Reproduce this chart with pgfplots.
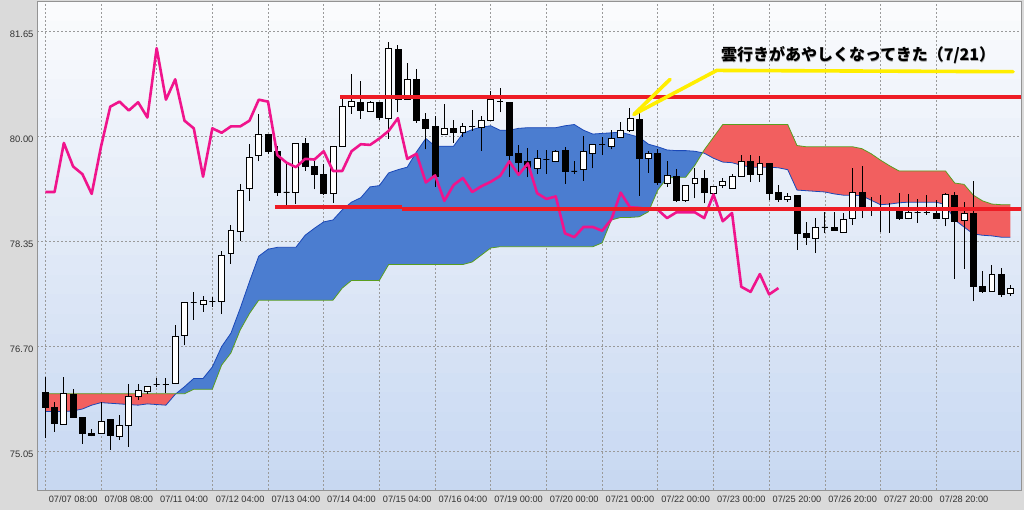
\documentclass[border=0pt]{standalone}
\usepackage{fontspec}
\setmainfont{Liberation Sans}
\newfontfamily\cjk{Noto Sans CJK JP}
\usepackage{pgfplots}
\pgfplotsset{compat=1.18}

\definecolor{framecol}{HTML}{DADADA}
\definecolor{bgtop}{HTML}{FAFBFD}
\definecolor{bgbot}{HTML}{C6D7F1}
\definecolor{gridgray}{HTML}{9A9A9A}
\definecolor{cloudblue}{HTML}{4B7DD0}
\definecolor{cloudred}{HTML}{F25F5F}
\definecolor{spanA}{HTML}{1A48B8}
\definecolor{spanB}{HTML}{5A9E1E}
\definecolor{chikou}{HTML}{F0148C}
\definecolor{hline}{HTML}{EE1C25}
\definecolor{yel}{HTML}{FFEE00}
\definecolor{ticktext}{HTML}{333333}

\begin{document}
\begin{tikzpicture}
\fill[framecol] (0,0) rectangle (1024pt,510pt);
% plot-area backdrop: banded light gradient, white at top to pale blue at bottom
\foreach \s in {0,...,24} {
  \pgfmathsetmacro\pct{4*\s}
  \fill[bgbot!\pct!bgtop] (37pt,{509pt-\s*19.56pt}) rectangle (1021pt,{509pt-(\s+1)*19.56pt-0.3pt});
}
\begin{axis}[
    at={(37pt,20pt)}, anchor=south west,
    scale only axis, width=984pt, height=489pt,
    xmin=-0.894, xmax=105.14,
    ymin=74.437, ymax=82.121,
    axis line style={draw=gray!85, line width=0.8pt},
    major tick length=0pt,
    grid=major,
    major grid style={gridgray, line width=0.6pt, dash pattern=on 2pt off 2pt},
    xtick={0,6,...,96},
    xticklabels={07/07 08:00,07/08 08:00,07/11 04:00,07/12 04:00,07/13 04:00,07/14 04:00,07/15 04:00,07/16 04:00,07/19 00:00,07/20 00:00,07/21 00:00,07/22 00:00,07/23 00:00,07/25 20:00,07/26 20:00,07/27 20:00,07/28 20:00},
    ytick={75.05,76.70,78.35,80.00,81.65},
    yticklabels={75.05,76.70,78.35,80.00,81.65},
    xticklabel style={anchor=west, yshift=-9.5pt, font=\fontsize{9.2}{10}\selectfont, text=ticktext},
    yticklabel style={yshift=-3pt, font=\fontsize{9.4}{10}\selectfont, text=ticktext},
]

% ichimoku cloud: span A forward, span B back, split where they cross
\addplot[fill=cloudred, draw=none] coordinates {
(0,75.67)(1,75.67)(2,75.67)(3,75.68)(4,75.71)(5,75.77)(6,75.81)(7,75.80)(8,75.79)(9,75.78)
(10,75.77)(11,75.79)(12,75.78)(13,75.77)(14,75.94)(14.08,75.95)(0,75.95)} -- cycle;
\addplot[fill=cloudblue, draw=none] coordinates {
(14.08,75.95)(15,76.06)(16,76.19)(17,76.19)(18,76.37)(19,76.69)
(20,76.90)(21,77.29)(22,77.71)(23,78.11)(24,78.22)(25,78.25)(26,78.25)(27,78.25)(28,78.44)(29,78.55)
(30,78.65)(31,78.68)(32,78.84)(33,78.96)(34,79.03)(35,79.20)(36,79.22)(37,79.42)(38,79.47)(39,79.51)
(40,79.75)(41,79.96)(42,79.84)(43,79.84)(44,79.84)(45,80.04)(46,80.10)(47,80.14)(48,80.16)(49,80.09)
(50,80.09)(51,80.12)(52,80.13)(53,80.13)(54,80.13)(55,80.13)(56,80.16)(57,80.18)(58,80.09)(59,80.03)
(60,80.04)(61,80.05)(62,80.06)(63,80.02)(64,79.98)(65,79.87)(66,79.83)(67,79.78)(68,79.77)(69,79.77)
(70,79.76)(70.81,79.735)
(70,79.54)(69,79.35)(68,79.35)(67,79.34)(66,79.15)(65,78.81)(64,78.73)(63,78.72)(62,78.72)(61,78.68)
(60,78.32)(59,78.26)(49,78.26)(48,78.24)(47,78.13)(46,78.02)(45,77.98)(37,77.98)(36,77.73)(33,77.73)
(32,77.61)(31,77.42)(23,77.42)(22,77.21)(21,76.95)(20,76.59)(19,76.40)(18,76.02)(16,76.02)(15,75.95)} -- cycle;
\addplot[fill=cloudred, draw=none] coordinates {
(70.81,79.735)(71,79.73)(72,79.65)(73,79.59)(74,79.58)(75,79.54)(76,79.51)(77,79.51)(78,79.51)(79,79.50)
(80,79.47)(81,79.15)(82,79.14)(83,79.13)(84,79.12)(85,79.09)(86,79.07)(87,79.07)(88,79.06)(89,78.99)
(90,78.92)(91,78.93)(92,78.95)(93,78.96)(94,78.96)(95,78.96)(96,78.96)(97,78.92)(98,78.68)(99,78.57)
(100,78.46)(101,78.44)(102,78.43)(103,78.41)(104,78.41)
(104,78.92)(103,78.92)(102,78.93)(101,78.98)(100,79.07)(99,79.24)(98,79.26)(97,79.45)(92,79.45)(91,79.53)
(90,79.62)(89,79.72)(88,79.80)(87,79.83)(82,79.83)(81,79.85)(80,80.18)(73,80.18)(72,79.98)(71,79.78)} -- cycle;

% senkou span A (blue) and B (green)
\addplot[spanA, line width=0.8pt] coordinates {
(0,75.67)(1,75.67)(2,75.67)(3,75.68)(4,75.71)(5,75.77)(6,75.81)(7,75.80)(8,75.79)(9,75.78)
(10,75.77)(11,75.79)(12,75.78)(13,75.77)(14,75.94)(15,76.06)(16,76.19)(17,76.19)(18,76.37)(19,76.69)
(20,76.90)(21,77.29)(22,77.71)(23,78.11)(24,78.22)(25,78.25)(26,78.25)(27,78.25)(28,78.44)(29,78.55)
(30,78.65)(31,78.68)(32,78.84)(33,78.96)(34,79.03)(35,79.20)(36,79.22)(37,79.42)(38,79.47)(39,79.51)
(40,79.75)(41,79.96)(42,79.84)(43,79.84)(44,79.84)(45,80.04)(46,80.10)(47,80.14)(48,80.16)(49,80.09)
(50,80.09)(51,80.12)(52,80.13)(53,80.13)(54,80.13)(55,80.13)(56,80.16)(57,80.18)(58,80.09)(59,80.03)
(60,80.04)(61,80.05)(62,80.06)(63,80.02)(64,79.98)(65,79.87)(66,79.83)(67,79.78)(68,79.77)(69,79.77)
(70,79.76)(71,79.73)(72,79.65)(73,79.59)(74,79.58)(75,79.54)(76,79.51)(77,79.51)(78,79.51)(79,79.50)
(80,79.47)(81,79.15)(82,79.14)(83,79.13)(84,79.12)(85,79.09)(86,79.07)(87,79.07)(88,79.06)(89,78.99)
(90,78.92)(91,78.93)(92,78.95)(93,78.96)(94,78.96)(95,78.96)(96,78.96)(97,78.92)(98,78.68)(99,78.57)
(100,78.46)(101,78.44)(102,78.43)(103,78.41)(104,78.41)};
\addplot[spanB, line width=0.8pt] coordinates {
(0,75.95)(1,75.95)(2,75.95)(3,75.95)(4,75.95)(5,75.95)(6,75.95)(7,75.95)(8,75.95)(9,75.95)
(10,75.95)(11,75.95)(12,75.95)(13,75.95)(14,75.95)(15,75.95)(16,76.02)(17,76.02)(18,76.02)(19,76.40)
(20,76.59)(21,76.95)(22,77.21)(23,77.42)(24,77.42)(25,77.42)(26,77.42)(27,77.42)(28,77.42)(29,77.42)
(30,77.42)(31,77.42)(32,77.61)(33,77.73)(34,77.73)(35,77.73)(36,77.73)(37,77.98)(38,77.98)(39,77.98)
(40,77.98)(41,77.98)(42,77.98)(43,77.98)(44,77.98)(45,77.98)(46,78.02)(47,78.13)(48,78.24)(49,78.26)
(50,78.26)(51,78.26)(52,78.26)(53,78.26)(54,78.26)(55,78.26)(56,78.26)(57,78.26)(58,78.26)(59,78.26)
(60,78.32)(61,78.68)(62,78.72)(63,78.72)(64,78.73)(65,78.81)(66,79.15)(67,79.34)(68,79.35)(69,79.35)
(70,79.54)(71,79.78)(72,79.98)(73,80.18)(74,80.18)(75,80.18)(76,80.18)(77,80.18)(78,80.18)(79,80.18)
(80,80.18)(81,79.85)(82,79.83)(83,79.83)(84,79.83)(85,79.83)(86,79.83)(87,79.83)(88,79.80)(89,79.72)
(90,79.62)(91,79.53)(92,79.45)(93,79.45)(94,79.45)(95,79.45)(96,79.45)(97,79.45)(98,79.26)(99,79.24)
(100,79.07)(101,78.98)(102,78.93)(103,78.92)(104,78.92)};

% candlesticks: index / open / high / low / close
\foreach \ki/\kopen/\khigh/\klow/\kclose in {
0/75.97/76.21/75.25/75.74, 1/75.74/75.82/75.35/75.49, 2/75.47/76.21/75.47/75.96,
3/75.94/76.03/75.57/75.57, 4/75.57/75.57/75.16/75.33, 5/75.32/75.39/75.28/75.30,
6/75.32/75.82/75.32/75.52, 7/75.54/75.54/75.07/75.30, 8/75.28/75.62/75.22/75.45,
9/75.45/76.10/75.12/75.91, 10/75.91/76.10/75.85/76.00, 11/75.99/76.07/75.95/76.07,
12/76.10/76.19/76.06/76.10, 13/76.10/76.19/75.96/76.10, 14/76.11/77.03/76.11/76.85,
15/76.87/77.39/76.71/77.39, 16/77.38/77.55/77.11/77.38, 17/77.36/77.49/77.24/77.42,
18/77.40/77.47/77.32/77.40, 19/77.40/78.20/77.20/78.13, 20/78.16/78.60/77.99/78.51,
21/78.50/79.25/78.35/79.15, 22/79.18/79.87/78.98/79.67, 23/79.69/80.35/79.60/80.03,
24/80.02/80.03/79.71/79.76, 25/79.76/79.84/79.06/79.12, 26/79.12/79.56/78.92/79.12,
27/79.11/79.89/78.93/79.89, 28/79.88/79.97/79.45/79.52, 29/79.52/79.61/79.16/79.40,
30/79.39/79.56/79.07/79.09, 31/79.10/79.85/78.95/79.83, 32/79.83/80.63/79.83/80.46,
33/80.46/80.97/80.35/80.54, 34/80.53/80.87/80.27/80.40, 35/80.39/80.55/80.38/80.53,
36/80.52/80.53/80.25/80.29, 37/80.28/81.48/79.96/81.38, 38/81.36/81.43/80.37/80.57,
39/80.57/81.14/80.57/80.89, 40/80.89/81.05/80.21/80.24, 41/80.26/80.36/79.79/80.12,
42/80.15/80.31/79.20/79.36, 43/80.02/80.50/80.02/80.12, 44/80.12/80.25/79.89/80.05,
45/80.05/80.21/79.98/80.15, 46/80.15/80.41/80.08/80.15, 47/80.14/80.31/79.77/80.24,
48/80.25/80.70/80.25/80.57, 49/80.54/80.75/80.37/80.54, 50/80.52/80.52/79.36/79.70,
51/79.72/79.86/79.37/79.58, 52/79.60/79.81/79.35/79.51, 53/79.49/79.78/79.40/79.64,
54/79.63/79.78/79.41/79.63, 55/79.60/79.78/79.60/79.76, 56/79.78/79.83/79.25/79.45,
57/79.45/79.61/79.40/79.45, 58/79.48/80.00/79.30/79.76, 59/79.72/79.87/79.49/79.87,
60/79.86/79.99/79.70/79.86, 61/79.84/80.09/79.79/79.96, 62/79.98/80.22/79.98/80.08,
63/80.08/80.44/80.07/80.28, 64/80.26/80.36/79.06/79.64, 65/79.65/79.77/79.42/79.72,
66/79.72/79.79/79.23/79.27, 67/79.26/79.60/79.20/79.38, 68/79.37/79.48/78.97/78.98,
69/78.98/79.23/78.97/79.23, 70/79.26/79.49/79.02/79.34, 71/79.34/79.47/78.94/79.12,
72/79.10/79.21/79.10/79.21, 73/79.22/79.34/79.18/79.28, 74/79.18/79.41/79.18/79.37,
75/79.37/79.70/79.37/79.60, 76/79.60/79.70/79.28/79.39, 77/79.40/79.69/79.28/79.57,
78/79.57/79.57/78.99/79.10, 79/79.11/79.23/78.97/79.01, 80/79.01/79.10/78.97/79.05,
81/79.06/79.06/78.21/78.47, 82/78.47/78.65/78.29/78.41, 83/78.39/78.71/78.16/78.57,
84/78.57/78.81/78.47/78.57, 85/78.57/78.81/78.51/78.51, 86/78.49/78.79/78.49/78.69,
87/78.71/79.49/78.60/79.11, 88/79.11/79.53/78.71/78.88, 89/78.87/79.04/78.74/78.87,
90/78.85/79.07/78.49/78.85, 91/78.84/78.95/78.48/78.84, 92/78.81/79.11/78.68/78.71,
93/78.71/79.09/78.69/78.80, 94/78.80/79.01/78.64/78.80, 95/78.80/79.08/78.76/78.80,
96/78.79/78.99/78.71/78.71, 97/78.71/79.11/78.58/79.08, 98/79.07/79.12/77.76/78.66,
99/78.68/78.97/77.91/78.79, 100/78.79/79.30/77.40/77.63, 101/77.64/77.88/77.54/77.55,
102/77.55/77.97/77.55/77.83, 103/77.83/77.92/77.47/77.51, 104/77.53/77.66/77.49/77.61} {
  \pgfmathsetmacro\kxa{\ki-0.32}
  \pgfmathsetmacro\kxb{\ki+0.32}
  \edef\temp{%
    \noexpand\addplot[black, line width=0.9pt, forget plot] coordinates {(\ki,\klow) (\ki,\khigh)};
    \noexpand\addplot[draw=black, line width=0.8pt, fill=\ifdim\kclose pt>\kopen pt white\else black\fi, forget plot]
      coordinates {(\kxa,\kopen) (\kxb,\kopen) (\kxb,\kclose) (\kxa,\kclose)} -- cycle;
  }\temp
}

% chikou span
\addplot[chikou, line width=2.6pt, line join=round] coordinates {
(0,79.12)(1,79.12)(2,79.89)(3,79.52)(4,79.40)(5,79.09)(6,79.83)(7,80.46)(8,80.54)(9,80.40)
(10,80.53)(11,80.29)(12,81.38)(13,80.57)(14,80.89)(15,80.24)(16,80.12)(17,79.36)(18,80.12)(19,80.05)
(20,80.15)(21,80.15)(22,80.24)(23,80.57)(24,80.54)(25,79.70)(26,79.58)(27,79.51)(28,79.64)(29,79.63)
(30,79.76)(31,79.45)(32,79.45)(33,79.76)(34,79.87)(35,79.86)(36,79.96)(37,80.08)(38,80.28)(39,79.64)
(40,79.72)(41,79.27)(42,79.38)(43,78.98)(44,79.23)(45,79.34)(46,79.12)(47,79.21)(48,79.28)(49,79.37)
(50,79.60)(51,79.39)(52,79.57)(53,79.10)(54,79.01)(55,79.05)(56,78.47)(57,78.41)(58,78.57)(59,78.57)
(60,78.51)(61,78.69)(62,79.11)(63,78.88)(64,78.87)(65,78.85)(66,78.84)(67,78.71)(68,78.80)(69,78.80)
(70,78.80)(71,78.71)(72,79.08)(73,78.66)(74,78.79)(75,77.63)(76,77.55)(77,77.83)(78,77.51)(79,77.61)};

% support / resistance lines
\addplot[hline, line width=4pt] coordinates {(31.76,80.61) (105.14,80.61)};
\addplot[hline, line width=4pt] coordinates {(24.75,78.88) (38.4,78.88)};
\addplot[hline, line width=4pt] coordinates {(38.4,78.85) (105.14,78.85)};

% annotation
\addplot[yel, line width=3.6pt, line cap=round] coordinates {(63.44,80.34) (67.32,80.89)};
\addplot[yel, line width=3.6pt, line cap=round, line join=round] coordinates {(63.44,80.34) (72.35,81.03) (104.28,81.01)};
\node[anchor=west, inner sep=0pt, text=black!35] at (axis cs:72.83,81.265) {\cjk\bfseries\fontsize{16}{18}\selectfont 雲行きがあやしくなってきた（7/21）};
\node[anchor=west, inner sep=0pt] at (axis cs:72.8,81.28) {\cjk\bfseries\fontsize{16}{18}\selectfont 雲行きがあやしくなってきた（7/21）};
\end{axis}
\end{tikzpicture}
\end{document}
